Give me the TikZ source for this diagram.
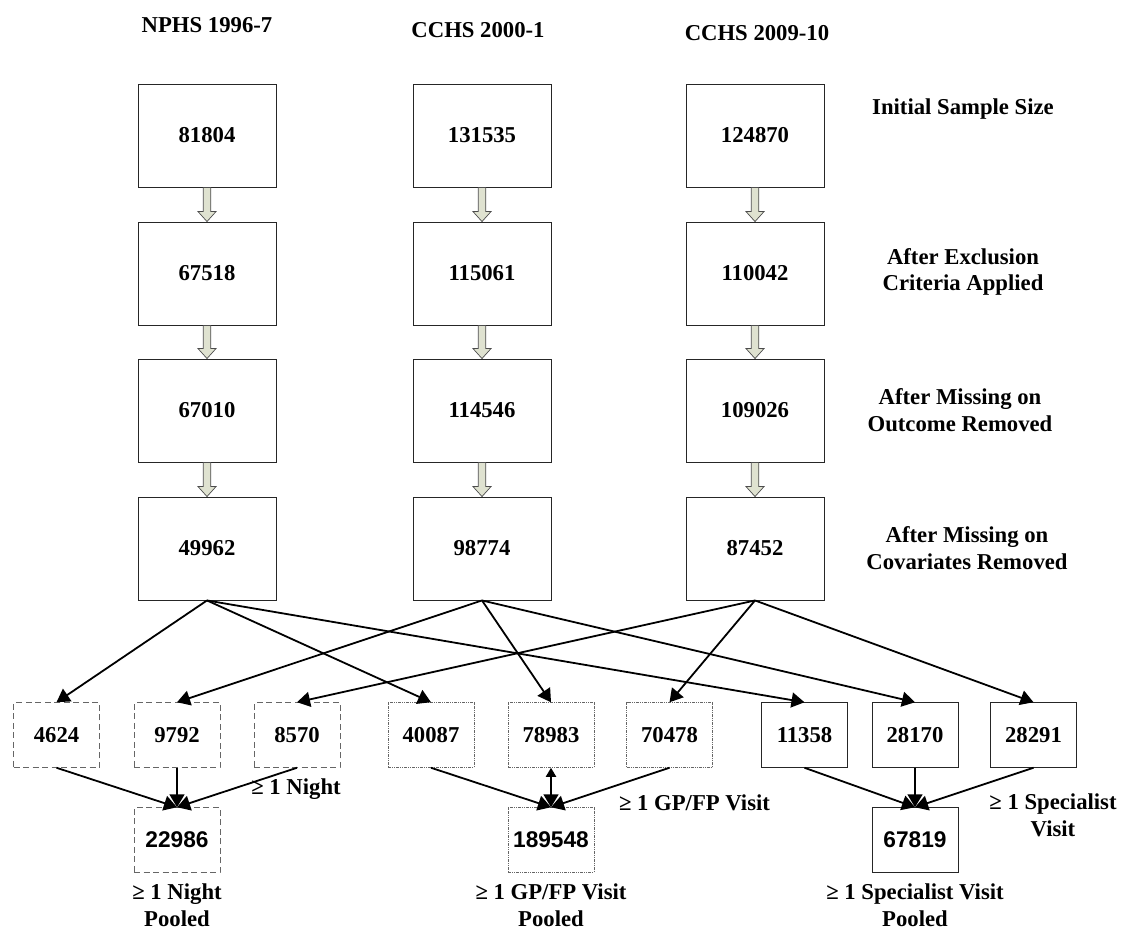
\documentclass[tikz,border=0pt]{standalone}
\usepackage{fontspec}
\setmainfont{Liberation Serif}
\newfontfamily\sansfam{Liberation Sans}
\usetikzlibrary{arrows.meta,calc}
\definecolor{blkfill}{HTML}{DFE2D0}
\newcommand\blockarr[2]{%
  \draw[blk] ($(#1.south)+(-3.75,0)$) -- ($(#2.north)+(-3.75,-10)$) -- ($(#2.north)+(-9,-10)$) -- (#2.north)
   -- ($(#2.north)+(9,-10)$) -- ($(#2.north)+(3.75,-10)$) -- ($(#1.south)+(3.75,0)$) -- cycle;}
\begin{document}
\begin{tikzpicture}[x=1pt,y=-1pt,
  every node/.style={font=\fontsize{22.7}{26.5}\selectfont\bfseries, align=center},
  topbox/.style={draw=black!85, line width=0.9pt, minimum width=138pt, minimum height=103pt, inner sep=0pt},
  smallbox/.style={line width=1pt, minimum width=86pt, minimum height=64.5pt, inner sep=0pt},
  nightbox/.style={smallbox, draw=black!60, dash pattern=on 6pt off 3.5pt},
  gpbox/.style={smallbox, draw=black!60, dash pattern=on 3pt off 1pt on 1pt off 1pt on 1pt off 1pt},
  specbox/.style={smallbox, draw=black!85},
  poolfont/.style={font=\fontsize{22.7}{26.5}\selectfont\sansfam\bfseries},
  poollbl/.style={inner sep=0.5pt},
  link/.style={line width=1.8pt, -{Triangle[length=13pt,width=15pt]}},
  blk/.style={draw=black!70, line width=0.7pt, fill=blkfill},
]
\useasboundingbox (0,0) rectangle (1128,930);

% headers
\node (h1) at (207,25) {NPHS 1996-7};
\node (h2) at (478,30) {CCHS 2000-1};
\node (h3) at (757,33) {CCHS 2009-10};

% columns
\node[topbox] (a1) at (207,135.5) {81804};
\node[topbox] (a2) at (207,273.5) {67518};
\node[topbox] (a3) at (207,410.5) {67010};
\node[topbox] (a4) at (207,548.5) {49962};
\node[topbox] (b1) at (482,135.5) {131535};
\node[topbox] (b2) at (482,273.5) {115061};
\node[topbox] (b3) at (482,410.5) {114546};
\node[topbox] (b4) at (482,548.5) {98774};
\node[topbox] (c1) at (755,135.5) {124870};
\node[topbox] (c2) at (755,273.5) {110042};
\node[topbox] (c3) at (755,410.5) {109026};
\node[topbox] (c4) at (755,548.5) {87452};

% right labels
\node (r1) at (963,109) {Initial Sample Size};
\node (r2) at (963,272) {After Exclusion\\Criteria Applied};
\node (r3) at (960,410) {After Missing on\\Outcome Removed};
\node (r4) at (967,548) {After Missing on\\Covariates Removed};

% block arrows
\blockarr{a1}{a2}\blockarr{a2}{a3}\blockarr{a3}{a4}
\blockarr{b1}{b2}\blockarr{b2}{b3}\blockarr{b3}{b4}
\blockarr{c1}{c2}\blockarr{c2}{c3}\blockarr{c3}{c4}

% bottom row
\node[nightbox] (n1) at (56.5,735) {4624};
\node[nightbox] (n2) at (177,735) {9792};
\node[nightbox] (n3) at (297,735) {8570};
\node[gpbox] (g1) at (431,735) {40087};
\node[gpbox] (g2) at (551,735) {78983};
\node[gpbox] (g3) at (669.5,735) {70478};
\node[specbox] (s1) at (804.5,735) {11358};
\node[specbox] (s2) at (915,735) {28170};
\node[specbox] (s3) at (1033.5,735) {28291};

% pooled
\node[nightbox,poolfont] (p1) at (177,840) {22986};
\node[gpbox,poolfont] (p2) at (551,840) {189548};
\node[specbox,poolfont] (p3) at (915,840) {67819};

% labels
\node (ln) at (296,789) {≥ 1 Night};
\node[poollbl] (lnp) at (177,905) {≥ 1 Night\\Pooled};
\node (lg) at (694.5,803) {≥ 1 GP/FP Visit};
\node[poollbl] (lgp) at (551,905) {≥ 1 GP/FP Visit\\Pooled};
\node (ls) at (1053,815.5) {≥ 1 Specialist\\Visit};
\node[poollbl] (lsp) at (915,905) {≥ 1 Specialist Visit\\Pooled};

% links from row 4
\draw[link] (a4.south) -- (n1.north);
\draw[link] (a4.south) -- (g1.north);
\draw[link] (a4.south) -- (s1.north);
\draw[link] (b4.south) -- (n2.north);
\draw[link] (b4.south) -- (g2.north);
\draw[link] (b4.south) -- (s2.north);
\draw[link] (c4.south) -- (n3.north);
\draw[link] (c4.south) -- (g3.north);
\draw[link] (c4.south) -- (s3.north);

% links to pooled
\draw[link] (n1.south) -- (p1.north);
\draw[link] (n2.south) -- (p1.north);
\draw[link] (n3.south) -- (p1.north);
\draw[link] (g1.south) -- (p2.north);
\draw[line width=1.8pt, {Triangle[length=9pt,width=10pt]}-{Triangle[length=13pt,width=15pt]}] (g2.south) -- (p2.north);
\draw[link] (g3.south) -- (p2.north);
\draw[link] (s1.south) -- (p3.north);
\draw[link] (s2.south) -- (p3.north);
\draw[link] (s3.south) -- (p3.north);
\end{tikzpicture}
\end{document}
